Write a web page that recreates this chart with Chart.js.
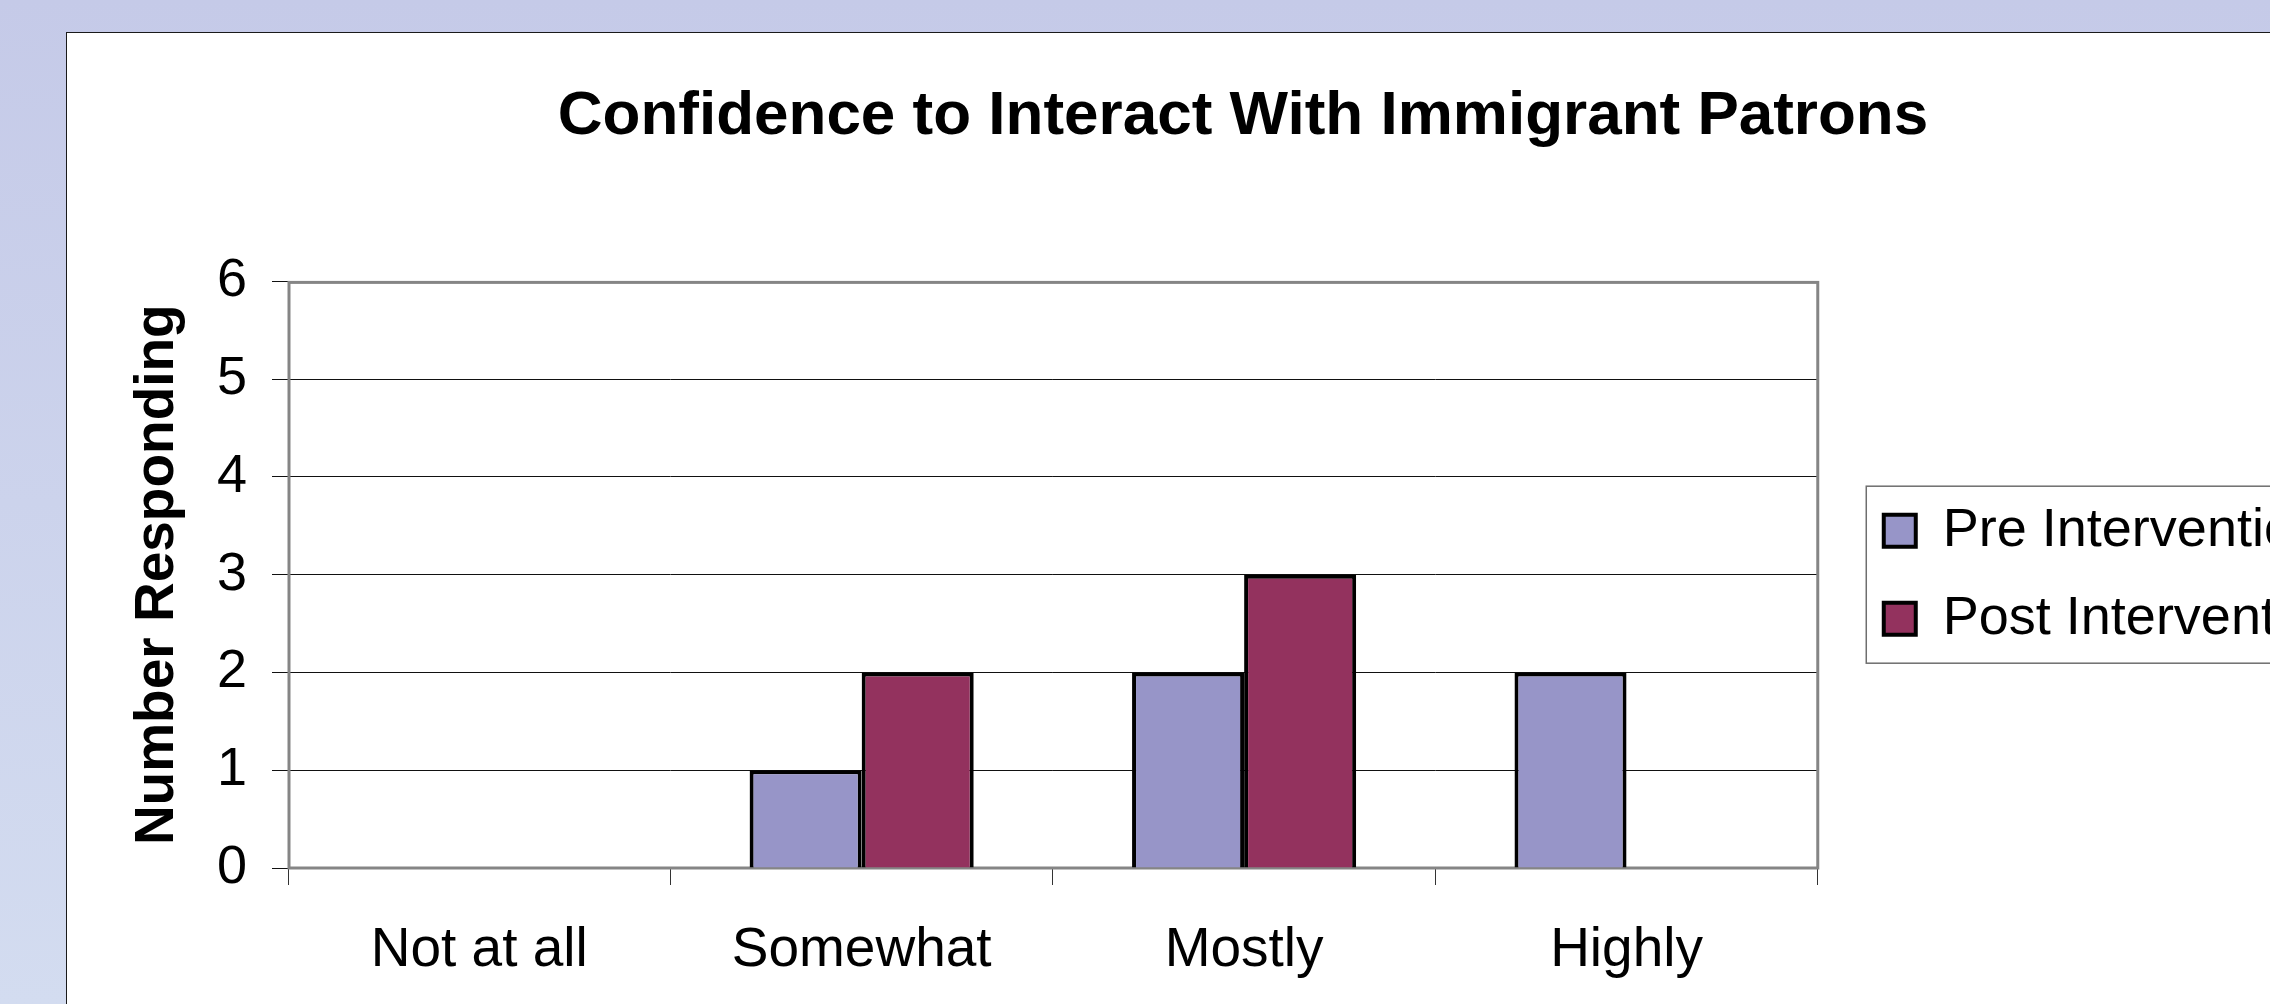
<!DOCTYPE html>
<html>
<head>
<meta charset="utf-8">
<title>Confidence to Interact With Immigrant Patrons</title>
<script src="https://cdn.jsdelivr.net/npm/chart.js@4.4.1/dist/chart.umd.min.js"></script>
<style>
    html, body { margin: 0; padding: 0; width: 2270px; height: 1004px; overflow: hidden; }
    body { position: relative; background: linear-gradient(to bottom, #c5cae8 0%, #d3dcf0 100%); }
    .slide-panel {
        position: absolute; left: 66px; top: 32px; width: 2400px; height: 1100px;
        background: #fff; border-left: 1px solid #1a1a1a; border-top: 1px solid #1a1a1a;
    }
    #chartConfidence { display: block; }
</style>
</head>
<body>
<div class="slide-panel">
    <canvas id="chartConfidence" width="2291" height="1000"></canvas>
</div>
<script>
var categories = ['Not at all', 'Somewhat', 'Mostly', 'Highly'];
var preIntervention = [0, 1, 2, 2];
var postIntervention = [0, 2, 3, 0];
var countTicks = [0, 1, 2, 3, 4, 5, 6];

Chart.defaults.font.family = "'Liberation Sans', Arial, sans-serif";
Chart.defaults.color = '#000';

// grey frame round the plot area, under the bars
var plotFrame = {
    id: 'plotFrame',
    beforeDatasetsDraw: function (chart) {
        var a = chart.chartArea, ctx = chart.ctx;
        ctx.save();
        ctx.strokeStyle = '#858585';
        ctx.lineWidth = 3;
        ctx.strokeRect(a.left + 1, a.top + 1, a.right - a.left - 1, a.bottom - a.top - 1);
        ctx.restore();
    }
};

// thin box round the legend items
var legendFrame = {
    id: 'legendFrame',
    afterDraw: function (chart) {
        var lg = chart.legend;
        if (!lg || !lg.legendHitBoxes || !lg.legendHitBoxes.length) return;
        var boxes = lg.legendHitBoxes;
        var first = boxes[0], last = boxes[boxes.length - 1];
        var top = first.top - 17.5;
        var bottom = last.top + last.height + 17.5;
        var ctx = chart.ctx;
        ctx.save();
        ctx.strokeStyle = '#6e6e6e';
        ctx.lineWidth = 1.5;
        ctx.strokeRect(lg.left + 16.5, top, chart.width, bottom - top);
        ctx.restore();
    }
};

function LoadChart() {
    var ctx = document.getElementById('chartConfidence');
    new Chart(ctx, {
        type: 'bar',
        data: {
            labels: categories,
            datasets: [{
                label: 'Pre Intervention',
                data: preIntervention,
                backgroundColor: '#9795c8',
                borderColor: '#000',
                borderWidth: 4
            }, {
                label: 'Post Intervention',
                data: postIntervention,
                backgroundColor: '#93325e',
                borderColor: '#000',
                borderWidth: 4
            }]
        },
        options: {
            responsive: false,
            animation: false,
            events: [],
            categoryPercentage: 0.586,
            barPercentage: 1,
            layout: { padding: { left: 61, right: 0, top: 0, bottom: 49 } },
            plugins: {
                title: {
                    display: true,
                    text: 'Confidence to Interact With Immigrant Patrons',
                    color: '#000',
                    font: { size: 62, weight: 'bold', lineHeight: 1.2 },
                    padding: { top: 47, bottom: 127 }
                },
                legend: {
                    position: 'right',
                    fullSize: false,
                    labels: {
                        boxWidth: 32,
                        boxHeight: 32,
                        padding: 34,
                        color: '#000',
                        font: { size: 54 }
                    }
                },
                tooltip: { enabled: false }
            },
            scales: {
                x: {
                    offset: true,
                    grid: { offset: true, drawOnChartArea: false, tickLength: 17, color: '#333', lineWidth: 1 },
                    border: { display: false },
                    ticks: { font: { size: 55 }, color: '#000', padding: 33, maxRotation: 0 },
                    afterFit: function (axis) { axis.height = 116; }
                },
                y: {
                    min: countTicks[0],
                    max: countTicks[countTicks.length - 1],
                    ticks: { stepSize: 1, font: { size: 54 }, color: '#000', padding: 25 },
                    grid: { color: '#111', lineWidth: 1, tickLength: 16 },
                    border: { display: false },
                    title: {
                        display: true,
                        text: 'Number Responding',
                        color: '#000',
                        font: { size: 55, weight: 'bold', lineHeight: 1 },
                        padding: { top: 2, bottom: 0 }
                    },
                    afterFit: function (axis) { axis.width = 160; }
                },
                // hidden right axis, only keeps the gap between plot and legend
                yGap: {
                    position: 'right',
                    type: 'linear',
                    display: false,
                    afterFit: function (axis) { axis.width = 32; }
                }
            }
        },
        plugins: [plotFrame, legendFrame]
    });
}

LoadChart();
</script>
</body>
</html>
